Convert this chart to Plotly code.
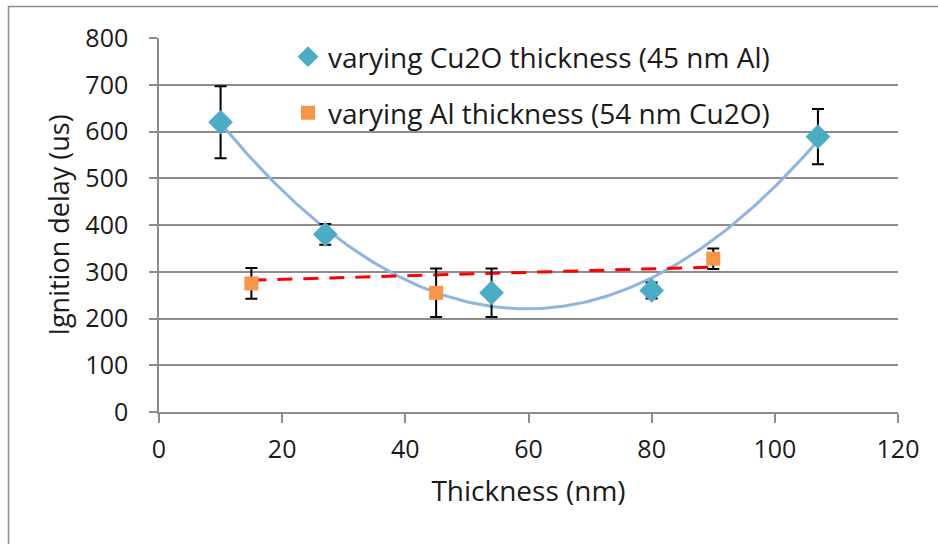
import numpy as np
import plotly.graph_objects as go

# Data: varying Cu2O thickness (45 nm Al)
cu_x = [10, 27, 54, 80, 107]
cu_y = [620, 380, 255, 260, 589]
cu_err = [77, 22, 52, 17, 59]

# Data: varying Al thickness (54 nm Cu2O)
al_x = [15, 45, 90]
al_y = [275, 255, 328]
al_err = [33, 52, 22]

# Linear trendline (as drawn) for Al series
al_trend_x = [15, 90]
al_trend_y = [282, 310]

x_ticks = [0, 20, 40, 60, 80, 100, 120]
y_ticks = [0, 100, 200, 300, 400, 500, 600, 700, 800]

FONT = "Open Sans"
GRID = "#8c8c8c"
TXT = "#1a1a1a"

# 2nd order polynomial trendline fitted to Cu2O series
coef = np.polyfit(cu_x, cu_y, 2)
fx = np.linspace(min(cu_x), max(cu_x), 200)
fy = np.polyval(coef, fx)

fig = go.Figure()
fig.add_trace(go.Scatter(x=fx, y=fy, mode="lines",
                         line=dict(color="#8db4e2", width=3),
                         showlegend=False, hoverinfo="skip"))
fig.add_trace(go.Scatter(x=al_trend_x, y=al_trend_y, mode="lines",
                         line=dict(color="#ff0000", width=3, dash="15px,11px"),
                         showlegend=False, hoverinfo="skip"))
fig.add_trace(go.Scatter(x=cu_x, y=cu_y, mode="markers",
                         name="varying Cu2O thickness (45 nm Al)",
                         marker=dict(symbol="diamond", size=19, color="#4bacc6"),
                         error_y=dict(type="data", array=cu_err, color="black",
                                      thickness=2, width=6),
                         legend="legend"))
fig.add_trace(go.Scatter(x=al_x, y=al_y, mode="markers",
                         name="varying Al thickness (54 nm Cu2O)",
                         marker=dict(symbol="square", size=14, color="#f79646"),
                         error_y=dict(type="data", array=al_err, color="black",
                                      thickness=2, width=6),
                         legend="legend2"))

L, R, T, B = 159, 40, 38, 132
W, H = 938, 544
pw, ph = W - L - R, H - T - B

def px2paper_x(px):
    return (px - L) / pw

def px2paper_y(py):
    return 1 - (py - T) / ph

leg_font = dict(size=28, family=FONT, color=TXT)

fig.update_layout(
    width=W, height=H,
    margin=dict(l=L, r=R, t=T, b=B),
    paper_bgcolor="white", plot_bgcolor="white",
    font=dict(family=FONT, size=25, color=TXT),
    legend=dict(x=px2paper_x(288), y=px2paper_y(57), xanchor="left", yanchor="middle",
                bgcolor="rgba(0,0,0,0)", font=leg_font),
    legend2=dict(x=px2paper_x(288), y=px2paper_y(113), xanchor="left", yanchor="middle",
                 bgcolor="rgba(0,0,0,0)", font=leg_font),
    xaxis=dict(range=[0, 120], tickvals=x_ticks, ticktext=[str(v) for v in x_ticks],
               showgrid=False, zeroline=False, showline=True, linecolor=GRID, linewidth=1.5,
               ticks="outside", ticklen=9, tickwidth=1.5, tickcolor=GRID,
               ticklabelstandoff=5,
               title=dict(text="Thickness (nm)", font=dict(size=28), standoff=18),
               tickfont=dict(size=25)),
    yaxis=dict(range=[0, 800], tickvals=y_ticks, ticktext=[str(v) for v in y_ticks],
               showgrid=True, gridcolor=GRID, gridwidth=1.5, zeroline=False,
               showline=True, linecolor=GRID, linewidth=1.5,
               ticks="outside", ticklen=8, tickwidth=1.5, tickcolor=GRID,
               ticklabelstandoff=16,
               title=dict(text="Ignition delay (us)", font=dict(size=27), standoff=8),
               tickfont=dict(size=25)),
    shapes=[dict(type="path", xref="paper", yref="paper",
                 path=f"M {px2paper_x(8.5)},{px2paper_y(560)} L {px2paper_x(8.5)},{px2paper_y(6.5)} L {px2paper_x(960)},{px2paper_y(6.5)}",
                 line=dict(color="#8c8c8c", width=1.5))],
)

fig.write_html("out.html")
